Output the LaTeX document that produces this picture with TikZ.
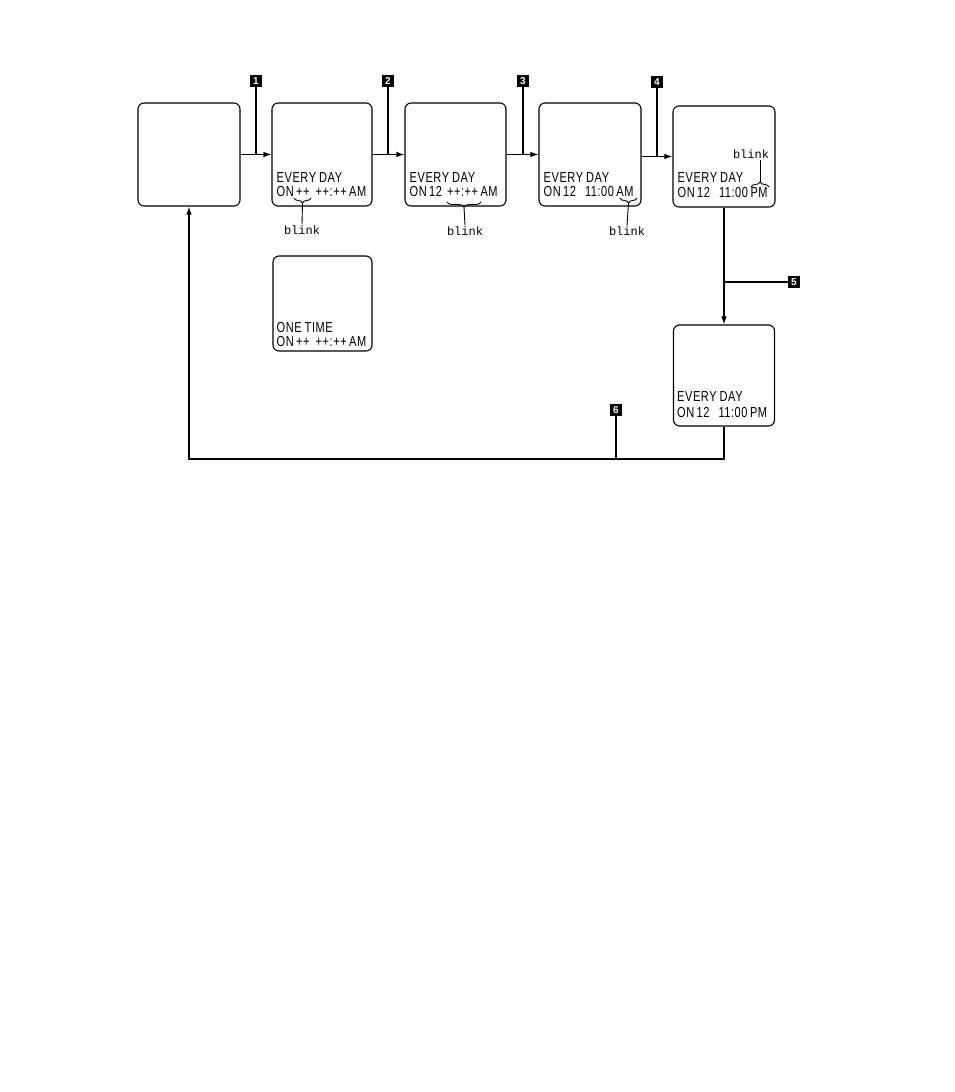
\documentclass[tikz,border=0pt]{standalone}
\usepackage{fontspec}
\usepackage{tikz}
\usetikzlibrary{arrows.meta}
\usetikzlibrary{decorations.pathreplacing}
\usetikzlibrary{calc, positioning}
\newfontfamily\lcdfont[FakeStretch=0.76, LetterSpace=4]{Liberation Sans}
\newfontfamily\keyfont{Liberation Sans}
\newfontfamily\blinkfont{Liberation Mono}

\tikzset{
	screen/.style={draw, line width=1.1pt, rounded corners=6pt, inner sep=0pt},
	lcd/.style={inner sep=0pt, anchor=base west, font=\lcdfont\fontsize{14.5}{15}\selectfont},
	keybox/.style={fill=black, text=white, inner sep=0pt, minimum size=12pt,
		font=\keyfont\bfseries\fontsize{10}{10}\selectfont},
	keyline/.style={line width=2.6pt},
	flow/.style={line width=1.1pt, -{Latex[length=8pt, width=5.5pt]}},
	blinktxt/.style={inner sep=1pt, font=\blinkfont\fontsize{12}{12}\selectfont},
	blinkbrace/.style={line width=0.9pt, decorate, decoration={brace, amplitude=5pt}},
}

\begin{document}
\begin{tikzpicture}[x=1pt, y=-1pt]

		% === page bounds ===
		\useasboundingbox (0,0) rectangle (954,1092);

		% === Screens ===
		\node[screen, minimum width=102pt, minimum height=103pt] (b0) at (189,154.5) {};
		\node[screen, minimum width=100pt, minimum height=103pt] (b1) at (322,154.5) {};
		\node[screen, minimum width=101pt, minimum height=103pt] (b2) at (455.5,154.5) {};
		\node[screen, minimum width=102pt, minimum height=103pt] (b3) at (590,154.5) {};
		\node[screen, minimum width=102pt, minimum height=101pt] (b4) at (724,156.5) {};
		\node[screen, minimum width=99pt,  minimum height=95pt]  (bo) at (322.5,303.5) {};
		\node[screen, minimum width=101pt, minimum height=101pt] (b5) at (724,375.5) {};

		% === Screen texts ===
		\node[lcd] (t1a) at ([shift={(5pt,24pt)}]b1.south west) {EVERY\hspace{3pt}DAY};
		\node[lcd] (t1b) at ([shift={(5pt,10pt)}]b1.south west) {ON\,++\hspace{6pt}++:++\,AM};
		\node[lcd] (t2a) at ([shift={(5pt,24pt)}]b2.south west) {EVERY\hspace{3pt}DAY};
		\node[lcd] (t2b) at ([shift={(5pt,10pt)}]b2.south west) {ON\,12\hspace{5pt}++:++\,AM};
		\node[lcd] (t3a) at ([shift={(5pt,24pt)}]b3.south west) {EVERY\hspace{3pt}DAY};
		\node[lcd] (t3b) at ([shift={(5pt,10pt)}]b3.south west) {ON\,12\hspace{9pt}11:00\,AM};
		\node[lcd] (t4a) at ([shift={(5pt,25pt)}]b4.south west) {EVERY\hspace{3pt}DAY};
		\node[lcd] (t4b) at ([shift={(5pt,10pt)}]b4.south west) {ON\,12\hspace{9pt}11:00\,PM};
		\node[lcd] (toa) at ([shift={(4pt,19pt)}]bo.south west) {ONE\hspace{3pt}TIME};
		\node[lcd] (tob) at ([shift={(4pt,5pt)}]bo.south west) {ON\,++\hspace{6pt}++:++\,AM};
		\node[lcd] (t5a) at ([shift={(4pt,25pt)}]b5.south west) {EVERY\hspace{3pt}DAY};
		\node[lcd] (t5b) at ([shift={(4pt,9pt)}]b5.south west) {ON\,12\hspace{9pt}11:00\,PM};

		% === Keys ===
		\node[keybox] (k1) at (256,81) {1};
		\node[keybox] (k2) at (388,81) {2};
		\node[keybox] (k3) at (523,81) {3};
		\node[keybox] (k4) at (657,82) {4};
		\node[keybox] (k5) at (794,282) {5};
		\node[keybox] (k6) at (616,410) {6};

		% === Flow ===
		\draw[flow] (b0) -- (b1);
		\draw[flow] (b1) -- (b2);
		\draw[flow] (b2) -- (b3);
		\draw[flow] (b3.east |- b4.west) -- (b4.west);
		\draw[flow] (b4) -- (b5);
		\coordinate (ret) at (b5.south |- 0,459);
		\draw[flow] (b5.south) -- (ret) -| (b0.south);

		% === Key strokes ===
		\draw[keyline] (k1.south) -- (k1 |- b1.west);
		\draw[keyline] (k2.south) -- (k2 |- b2.west);
		\draw[keyline] (k3.south) -- (k3 |- b3.west);
		\draw[keyline] (k4.south) -- (k4 |- b4.west);
		\draw[keyline] (k5.west) -- (b4.south |- k5);
		\draw[keyline] (k6.south) -- (k6 |- ret);

		% === Blink marks ===
		\node[blinktxt] (bl1) at (302,230) {blink};
		\node[blinktxt] (bl2) at (465,231) {blink};
		\node[blinktxt] (bl3) at (627,231) {blink};
		\node[blinktxt] (bl4) at (751,154) {blink};
		\draw[blinkbrace] (311,198) -- (294,198);
		\draw[blinkbrace] (481,202) -- (447,202);
		\draw[blinkbrace] (637,198) -- (620,198);
		\draw[blinkbrace] (751,187) -- (769,187);
		\coordinate (br1) at (302.5,203);
		\coordinate (br2) at (464,207);
		\coordinate (br3) at (628.5,203);
		\coordinate (br4) at (760,182);
		\draw[line width=0.9pt] (br1) -- (bl1.north);
		\draw[line width=0.9pt] (br2) -- (bl2.north);
		\draw[line width=0.9pt] (br3) -- (bl3.north);
		\draw[line width=0.9pt] (br4) -- (br4 |- bl4.south);
	\end{tikzpicture}
\end{document}
